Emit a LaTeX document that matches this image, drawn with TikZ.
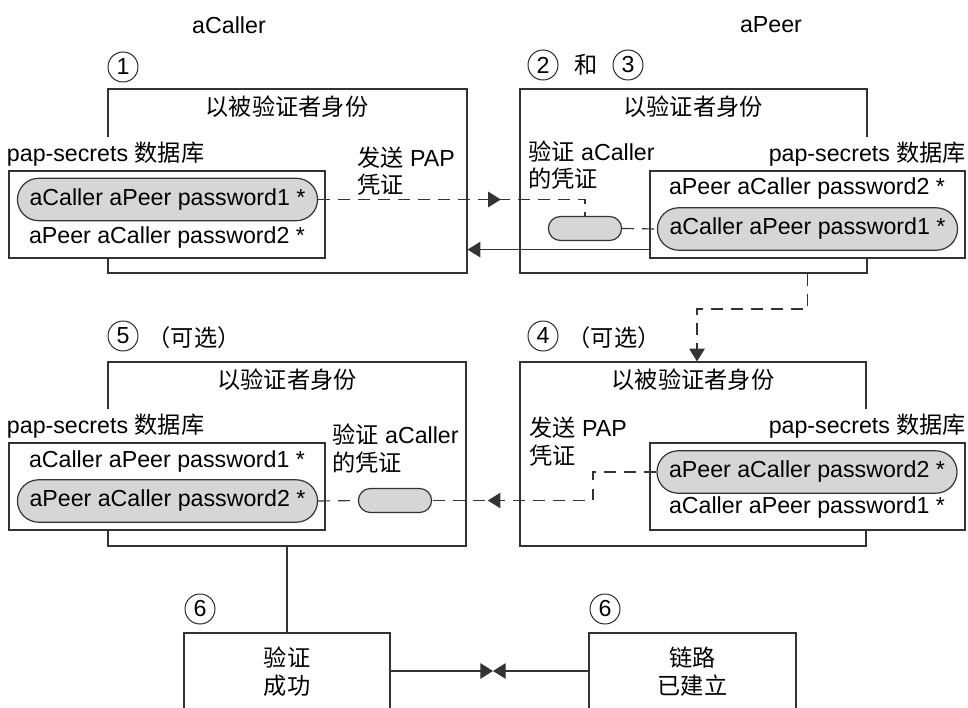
\documentclass[tikz,border=0pt]{standalone}
\usepackage{fontspec}
\setmainfont{Liberation Sans}
\newfontfamily\cjk{Noto Sans CJK SC}
\usetikzlibrary{arrows.meta,shapes,shapes.misc,positioning,fit,decorations.markings}
\tikzset{
base_t/.style = {font=\fontsize{16.5}{19.5}\selectfont, text=black},
cjk_t/.style = {font=\cjk\fontsize{16.5}{19.5}\selectfont, text=black},
box_o/.style = {draw=black!80, line width=0.85pt, inner sep=0pt},% cadre d'une etape
box_db/.style = {box_o, fill=white},% base pap-secrets
lbl_db/.style = {base_t, fill=white, inner sep=0.333em},% titre de la base
pill/.style = {base_t, rounded rectangle, draw=black!80, line width=0.85pt, fill=black!16, minimum width=7.5cm, minimum height=1.06cm, inner sep=0pt},% entree choisie
chk/.style = {rounded rectangle, draw=black!80, line width=0.85pt, fill=black!16, minimum width=1.83cm, minimum height=0.6cm, inner sep=0pt},% controle
num_c/.style = {base_t, circle, draw=black!85, line width=0.7pt, minimum size=0.75cm, inner sep=0pt},% numero d'etape
note/.style = {base_t, align=left, anchor=west, inner sep=0pt},
dash_l/.style = {draw=black!80, line width=0.85pt, dash pattern=on 8.5pt off 5.7pt},
solid_l/.style = {draw=black!80, line width=0.85pt},
mid_tip/.style = {postaction={decorate}, decoration={markings, mark=at position #1 with {\pgfsetdash{}{0pt}\arrow{Triangle[length=9pt,width=11pt]}}}},
end_tip/.style = {-{Triangle[length=9pt,width=11pt]}}
}
\begin{document}
\begin{tikzpicture}[x=0.025cm, y=-0.025cm]
\clip (0,0) rectangle (968,708);
% noms et numeros
\node[base_t] (callerName) at (229,25) {aCaller};
\node[base_t] (peerName) at (771,25) {aPeer};
\node[num_c] (stepOne) at (123,67) {1};
\node[num_c] (stepTwo) at (543,65) {2};
\node[cjk_t] (stepAnd) at (586,65) {和};
\node[num_c] (stepThree) at (628,65) {3};
\node[num_c] (stepFive) at (123,336) {5};
\node[cjk_t] (optFive) at (194,338) {（可选）};
\node[num_c] (stepFour) at (543,336) {4};
\node[cjk_t] (optFour) at (614,338) {（可选）};
\node[num_c] (stepSixA) at (200,609) {6};
\node[num_c] (stepSixB) at (605,609) {6};
% cadres des etapes
\node[box_o, fit={(108,89) (467,273)}] (callerA) {};
\node[box_o, fit={(520,89) (867,273)}] (peerB) {};
\node[box_o, fit={(108,362) (466,546)}] (callerC) {};
\node[box_o, fit={(520,362) (866,546)}] (peerC) {};
\node[box_o, cjk_t, align=center, fit={(184,633) (390,730)}] (callerD) {验证\\成功};
\node[box_o, cjk_t, align=center, fit={(589,633) (796,730)}] (peerD) {链路\\已建立};
\node[cjk_t] (callerAtitle) at (287,107) {以被验证者身份};
\node[cjk_t] (peerBtitle) at (693,107) {以验证者身份};
\node[cjk_t] (callerCtitle) at (287,380) {以验证者身份};
\node[cjk_t] (peerCtitle) at (693,380) {以被验证者身份};
% bases pap-secrets
\node[lbl_db, anchor=south west] (callerAlbl) at (2,171) {pap-secrets {\cjk 数据库}};
\node[lbl_db, anchor=south east] (peerBlbl) at (971,171) {pap-secrets {\cjk 数据库}};
\node[lbl_db, anchor=south west] (callerClbl) at (2,443) {pap-secrets {\cjk 数据库}};
\node[lbl_db, anchor=south east] (peerClbl) at (971,443) {pap-secrets {\cjk 数据库}};
\node[box_db, fit={(9,171) (325,258)}] (callerAdb) {};
\node[box_db, fit={(650,171) (965,258)}] (peerBdb) {};
\node[box_db, fit={(9,443) (325,530)}] (callerCdb) {};
\node[box_db, fit={(650,443) (965,530)}] (peerCdb) {};
\node[pill] (callerApill) at (167.5,199.5) {aCaller aPeer password1 *};
\node[base_t] (callerAentry) at (167,238) {aPeer aCaller password2 *};
\node[base_t] (peerBentry) at (807,189) {aPeer aCaller password2 *};
\node[pill] (peerBpill) at (807.5,229) {aCaller aPeer password1 *};
\node[base_t] (callerCentry) at (167,462) {aCaller aPeer password1 *};
\node[pill] (callerCpill) at (167.5,501) {aPeer aCaller password2 *};
\node[pill] (peerCpill) at (807,472) {aPeer aCaller password2 *};
\node[base_t] (peerCentry) at (807,508) {aCaller aPeer password1 *};
\node[chk] (peerBchk) at (585,228.5) {};
\node[chk] (callerCchk) at (395,500.5) {};
% notes
\node[note] (callerAsend) at (357,171) {{\cjk 发送} PAP\\{\cjk 凭证}};
\node[note] (peerBcheck) at (528,165) {{\cjk 验证} aCaller\\{\cjk 的凭证}};
\node[note] (callerCcheck) at (332,448.5) {{\cjk 验证} aCaller\\{\cjk 的凭证}};
\node[note] (peerCsend) at (529,441.5) {{\cjk 发送} PAP\\{\cjk 凭证}};
% liaisons
\coordinate (bendC) at (697,309);
\coordinate (bendD) at (593,500.5);
\coordinate (retB) at ([yshift=0.225cm]peerBdb.south west);
\coordinate (meet) at (493,671);
\draw[dash_l, mid_tip=0.645] (callerApill.east) -| (peerBchk.north);
\draw[dash_l] (peerBchk.east) -- (peerBpill.west);
\draw[solid_l, end_tip] (retB) -- (retB -| callerA.east);
\draw[dash_l, end_tip] (peerBdb.south |- peerB.south) |- (bendC) -- (bendC |- peerC.north);
\draw[dash_l, mid_tip=0.78] (peerCpill.west) -| (bendD) -- (callerCchk.east);
\draw[dash_l] (callerCpill.east) -- (callerCchk.west);
\draw[solid_l] (callerC.south) -- (callerD.north);
\draw[solid_l, end_tip] (callerD.east |- meet) -- (meet);
\draw[solid_l, end_tip] (peerD.west |- meet) -- (meet);
\end{tikzpicture}
\end{document}
